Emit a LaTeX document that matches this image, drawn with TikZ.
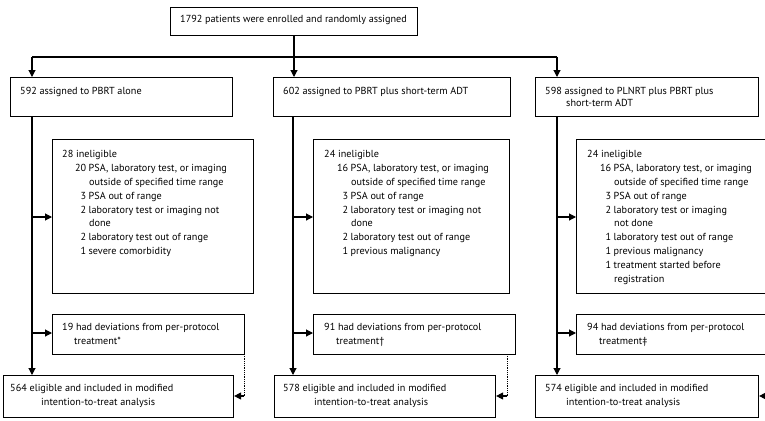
\documentclass[tikz,border=0pt]{standalone}
\usepackage{fontspec}
\setmainfont{PT Sans}
\usetikzlibrary{arrows.meta}
\newcommand\nm[1]{\makebox[12pt][r]{#1}\hspace*{2.5pt}}
\begin{document}
\begin{tikzpicture}[x=1pt,y=-1pt,
  box/.style={draw, line width=1.1pt, anchor=north west, inner sep=0pt},
  txt/.style={anchor=north west, inner sep=0pt, align=left, font=\fontsize{10.2}{13.9}\selectfont},
  arr/.style={line width=1.1pt, -{Triangle[length=7pt,width=7pt]}},
  ln/.style={line width=1.1pt},
  dot/.style={line width=0.8pt, densely dotted}]
\useasboundingbox (0,0) rectangle (765,420);
\clip (0,0) rectangle (765,420);
% top
\node[box, minimum width=247pt, minimum height=28pt] (top) at (170,7) {};
\node[txt] (toptxt) at (180,15) {1792 patients were enrolled and randomly assigned};
% column boxes
\node[box, minimum width=222pt, minimum height=39pt] (a1) at (10,77) {};
\node[box, minimum width=237pt, minimum height=39pt] (b1) at (273,77) {};
\node[box, minimum width=223pt, minimum height=39pt] (c1) at (535,77) {};
\node[txt] (a1t) at (20,87) {592 assigned to PBRT alone};
\node[txt] (b1t) at (283,87) {602 assigned to PBRT plus short-term ADT};
\node[txt, font=\fontsize{10.2}{12}\selectfont] (c1t) at (545,87) {598 assigned to PLNRT plus PBRT plus\\\hspace*{21pt}short-term ADT};
% ineligible boxes
\node[box, minimum width=201pt, minimum height=154pt] (a2) at (52,139) {};
\node[box, minimum width=196pt, minimum height=154pt] (b2) at (313,139) {};
\node[box, minimum width=220pt, minimum height=154pt] (c2) at (576,139) {};
\node[txt] (a2t) at (62,150) {28 ineligible\\
\hspace*{12pt}\nm{20}PSA, laboratory test, or imaging\\
\hspace*{27pt}outside of specified time range\\
\hspace*{12pt}\nm{3}PSA out of range\\
\hspace*{12pt}\nm{2}laboratory test or imaging not\\
\hspace*{27pt}done\\
\hspace*{12pt}\nm{2}laboratory test out of range\\
\hspace*{12pt}\nm{1}severe comorbidity};
\node[txt] (b2t) at (324,150) {24 ineligible\\
\hspace*{12pt}\nm{16}PSA, laboratory test, or imaging\\
\hspace*{27pt}outside of specified time range\\
\hspace*{12pt}\nm{3}PSA out of range\\
\hspace*{12pt}\nm{2}laboratory test or imaging not\\
\hspace*{27pt}done\\
\hspace*{12pt}\nm{2}laboratory test out of range\\
\hspace*{12pt}\nm{1}previous malignancy};
\node[txt] (c2t) at (587,150) {24 ineligible\\
\hspace*{12pt}\nm{16}PSA, laboratory test, or imaging\\
\hspace*{27pt}outside of specified time range\\
\hspace*{12pt}\nm{3}PSA out of range\\
\hspace*{12pt}\nm{2}laboratory test or imaging\\
\hspace*{27pt}not done\\
\hspace*{12pt}\nm{1}laboratory test out of range\\
\hspace*{12pt}\nm{1}previous malignancy\\
\hspace*{12pt}\nm{1}treatment started before\\
\hspace*{27pt}registration};
% deviation boxes
\node[box, minimum width=192pt, minimum height=40pt] (a3) at (52,314) {};
\node[box, minimum width=202pt, minimum height=40pt] (b3) at (313,314) {};
\node[box, minimum width=220pt, minimum height=40pt] (c3) at (576,314) {};
\node[txt] (a3t) at (62,323) {19 had deviations from per-protocol\\\hspace*{12pt}treatment*};
\node[txt] (b3t) at (324,323) {91 had deviations from per-protocol\\\hspace*{12pt}treatment\textdagger};
\node[txt] (c3t) at (587,323) {94 had deviations from per-protocol\\\hspace*{12pt}treatment\textdaggerdbl};
% final boxes
\node[box, minimum width=230pt, minimum height=42pt] (a4) at (3,375) {};
\node[box, minimum width=221pt, minimum height=42pt] (b4) at (274,375) {};
\node[box, minimum width=223pt, minimum height=42pt] (c4) at (535,375) {};
\node[txt] (a4t) at (10,384) {564 eligible and included in modified\\\hspace*{31pt}intention-to-treat analysis};
\node[txt] (b4t) at (283,384) {578 eligible and included in modified\\\hspace*{31pt}intention-to-treat analysis};
\node[txt] (c4t) at (545,384) {574 eligible and included in modified\\\hspace*{21pt}intention-to-treat analysis};
% coordinates
\coordinate (split) at (294,57);
\coordinate (la) at (32,57);
\coordinate (lc) at (557,57);
\coordinate (ja) at (32,217);
\coordinate (jb) at (293,217);
\coordinate (jc) at (557,217);
\coordinate (ka) at (32,333);
\coordinate (kb) at (293,333);
\coordinate (kc) at (557,333);
\coordinate (da) at (244,354);
\coordinate (db) at (507,354);
\coordinate (dae) at (244,396);
\coordinate (dbe) at (507,396);
\coordinate (dce) at (780,396);
% connectors
\draw[ln] (top.south -| split) -- (split);
\draw[ln] (la) -- (lc);
\draw[arr] (la) -- (la |- a1.north);
\draw[arr] (split) -- (split |- b1.north);
\draw[arr] (lc) -- (lc |- c1.north);
\draw[arr] (la |- a1.south) -- (la |- a4.north);
\draw[arr] (jb |- b1.south) -- (jb |- b4.north);
\draw[arr] (jc |- c1.south) -- (jc |- c4.north);
\draw[arr] (ja) -- (ja -| a2.west);
\draw[arr] (jb) -- (jb -| b2.west);
\draw[arr] (jc) -- (jc -| c2.west);
\draw[arr] (ka) -- (ka -| a3.west);
\draw[arr] (kb) -- (kb -| b3.west);
\draw[arr] (kc) -- (kc -| c3.west);
\draw[dot] (da) -- (dae);
\draw[dot] (db) -- (dbe);
\draw[arr] (dae) -- (dae -| a4.east);
\draw[arr] (dbe) -- (dbe -| b4.east);
\draw[arr] (dce) -- (dce -| c4.east);
\end{tikzpicture}
\end{document}
